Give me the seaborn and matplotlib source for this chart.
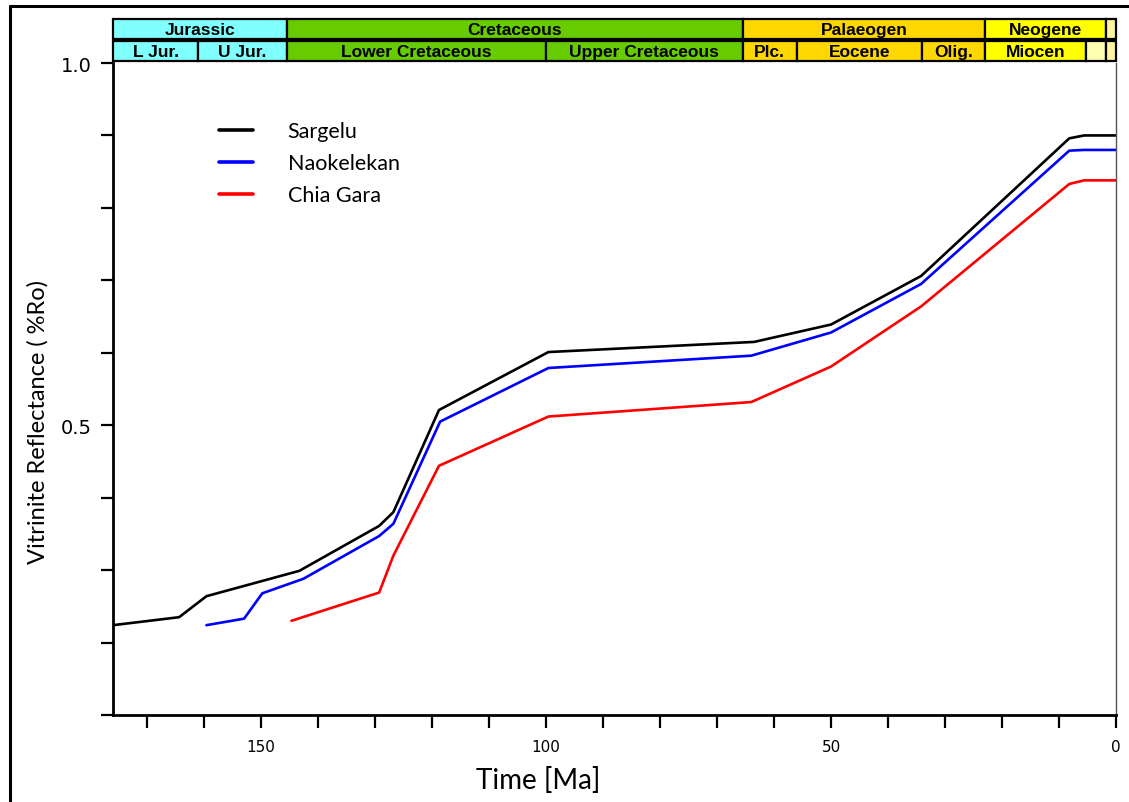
import numpy as np
import pandas as pd
import matplotlib
matplotlib.use("Agg")
import matplotlib.pyplot as plt
from matplotlib.lines import Line2D
from matplotlib.patches import Rectangle
import seaborn as sns

# Burial-history vitrinite reflectance curves (age in Ma, %Ro)
sargelu_age = [176, 164.4, 159.6, 143.3, 129.3, 126.8, 118.8, 99.6, 63.5, 50.0, 34.2, 8.2, 5.6, 0]
sargelu_ro = [0.224, 0.235, 0.264, 0.299, 0.361, 0.380, 0.521, 0.601, 0.615, 0.639, 0.706, 0.896, 0.900, 0.900]

naokelekan_age = [159.6, 153.0, 149.8, 142.6, 129.3, 126.8, 118.6, 99.6, 64.0, 50.0, 34.2, 8.2, 5.6, 0]
naokelekan_ro = [0.224, 0.233, 0.268, 0.288, 0.347, 0.364, 0.505, 0.579, 0.596, 0.628, 0.695, 0.879, 0.880, 0.880]

chiagara_age = [144.7, 129.3, 126.8, 118.8, 99.6, 64.0, 50.0, 34.2, 8.2, 5.6, 0]
chiagara_ro = [0.230, 0.269, 0.320, 0.444, 0.512, 0.532, 0.581, 0.664, 0.833, 0.838, 0.838]

wells = ["Sargelu", "Naokelekan", "Chia Gara"]
well_colors = ["#000000", "#0000FF", "#FF0000"]

# Geological time scale (older, younger, label, colour)
periods = [
    (176, 145.5, "Jurassic", "#80FFFF"),
    (145.5, 65.5, "Cretaceous", "#66CC00"),
    (65.5, 23, "Palaeogen", "#FFD700"),
    (23, 1.8, "Neogene", "#FFFF00"),
    (1.8, 0, "", "#FFF59D"),
]
epochs = [
    (176, 161, "L Jur.", "#80FFFF"),
    (161, 145.5, "U Jur.", "#80FFFF"),
    (145.5, 100, "Lower Cretaceous", "#66CC00"),
    (100, 65.5, "Upper Cretaceous", "#66CC00"),
    (65.5, 56, "Plc.", "#FFD700"),
    (56, 34, "Eocene", "#FFD700"),
    (34, 23, "Olig.", "#FFD700"),
    (23, 5.3, "Miocen", "#FFFF00"),
    (5.3, 1.8, "", "#FFFFB0"),
    (1.8, 0, "", "#FFF59D"),
]

x_min, x_max = 176, 0
y_min, y_max = 0.1, 1.0

sns.set_style("white")
plt.rcParams["font.family"] = ["Lato", "DejaVu Sans"]
plt.rcParams.update({"text.color": "black", "axes.labelcolor": "black",
                     "xtick.color": "black", "ytick.color": "black"})

df = pd.concat([
    pd.DataFrame({"Age": sargelu_age, "Ro": sargelu_ro, "Well": wells[0]}),
    pd.DataFrame({"Age": naokelekan_age, "Ro": naokelekan_ro, "Well": wells[1]}),
    pd.DataFrame({"Age": chiagara_age, "Ro": chiagara_ro, "Well": wells[2]}),
], ignore_index=True)

W, H = 1129, 803
fig = plt.figure(figsize=(W / 100, H / 100), dpi=100)
fig.patch.set_facecolor("white")

ax = fig.add_axes([113 / W, 1 - 716 / H, (1116 - 113) / W, (716 - 64) / H])
sns.lineplot(data=df, x="Age", y="Ro", hue="Well", hue_order=wells,
             palette=dict(zip(wells, well_colors)), sort=False, estimator=None,
             linewidth=1.9, ax=ax)

ax.set_xlim(x_min, x_max)
ax.set_ylim(y_min, y_max)

xt = np.arange(0, 171, 10)
ax.set_xticks(xt)
ax.set_xticklabels([str(v) if v % 50 == 0 else "" for v in xt],
                   fontsize=11, family="DejaVu Sans")
yt = np.round(np.arange(0.1, 1.01, 0.1), 1)
ax.set_yticks(yt)
ax.set_yticklabels([f"{v:.1f}" if v in (0.5, 1.0) else "" for v in yt],
                   fontsize=14, family="DejaVu Sans")
ax.tick_params(axis="both", which="major", bottom=True, left=True, direction="out",
               length=9, width=1.6, color="black", labelcolor="black")
ax.tick_params(axis="x", pad=8)
ax.tick_params(axis="y", pad=6)

for side in ("left", "bottom"):
    ax.spines[side].set_color("black")
    ax.spines[side].set_linewidth(2)
ax.spines["top"].set_visible(False)
ax.spines["right"].set_color("#555555")
ax.spines["right"].set_linewidth(1)

ax.set_xlabel("Time [Ma]", fontsize=20, color="black")
ax.xaxis.set_label_coords((538 - 113) / 1003, -(781 - 716) / 652)
ax.set_ylabel("Vitrinite Reflectance ( %Ro)", fontsize=17, color="black")
ax.yaxis.set_label_coords(-(113 - 38) / 1003, (716 - 422) / 652)
ax.xaxis.label.set_va("center")
ax.yaxis.label.set_va("center")

leg = ax.legend(loc="upper left", bbox_to_anchor=(0.086, 0.94), frameon=False,
                fontsize=15.5, handlelength=1.6, handletextpad=1.6,
                labelspacing=0.55)
for h in leg.get_lines():
    h.set_linewidth(2.6)
for t in leg.get_texts():
    t.set_color("black")

# Geological time-scale header
hax = fig.add_axes([113 / W, 1 - 62 / H, (1116 - 113) / W, 42 / H])
hax.set_xlim(x_min, x_max)
hax.set_ylim(0, 2)
hax.axis("off")
for row_y, row in ((1.05, periods), (0.0, epochs)):
    for old, young, label, color in row:
        hax.add_patch(Rectangle((young, row_y), old - young, 0.95,
                                facecolor=color, edgecolor="black", linewidth=1.6,
                                clip_on=False))
        if label:
            hax.text((old + young) / 2, row_y + 0.47, label, ha="center", va="center",
                     fontsize=12.5, fontweight="bold", family="Liberation Sans",
                     color="black")

# Page frame
fig.add_artist(Line2D([10 / W, 10 / W], [1 - 7 / H, 0], transform=fig.transFigure,
                      color="black", linewidth=2.2))
fig.add_artist(Line2D([10 / W, 1], [1 - 7 / H, 1 - 7 / H], transform=fig.transFigure,
                      color="black", linewidth=2.2))

fig.savefig("out.png", dpi=100)
